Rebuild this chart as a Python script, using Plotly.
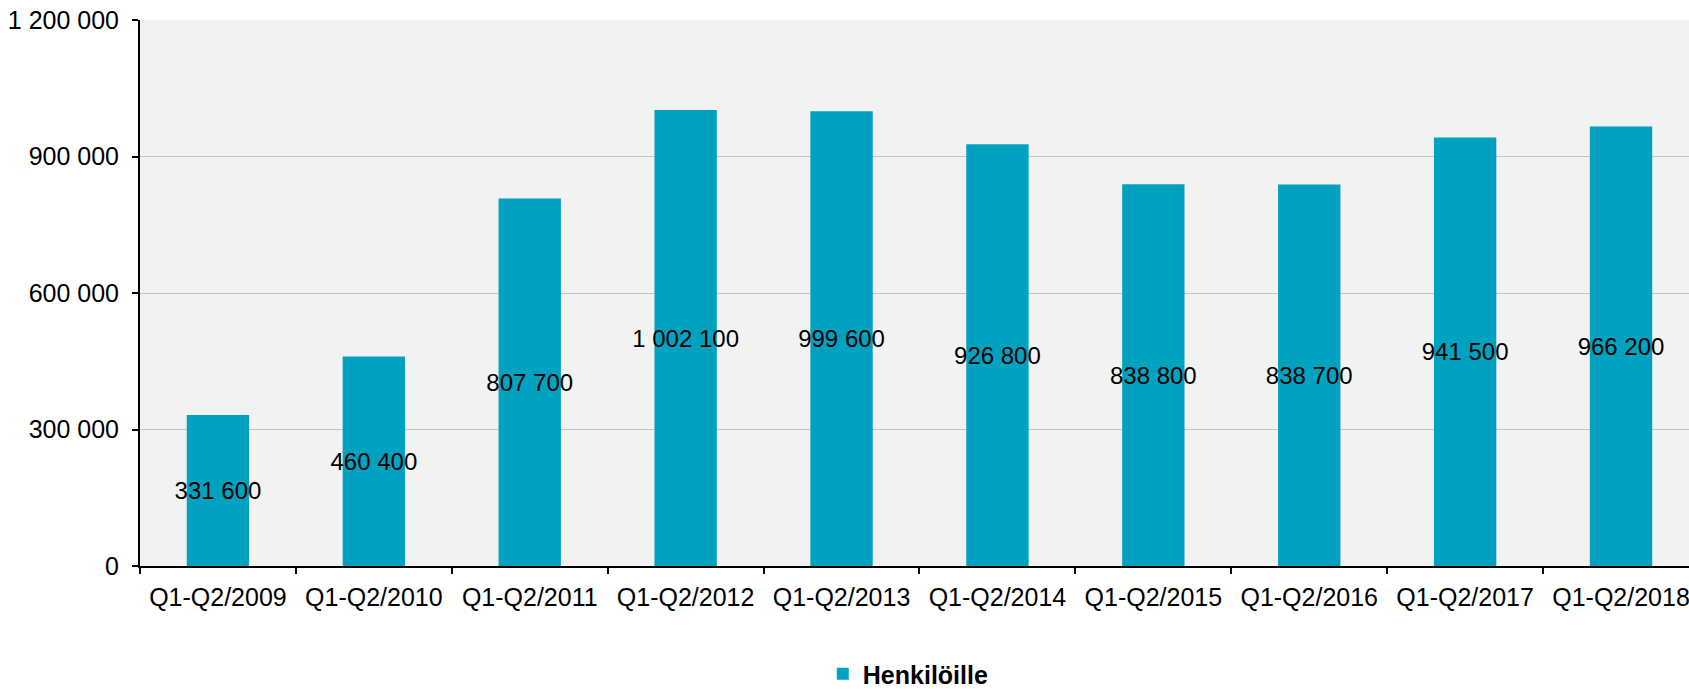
import plotly.graph_objects as go

categories = ["Q1-Q2/2009", "Q1-Q2/2010", "Q1-Q2/2011", "Q1-Q2/2012", "Q1-Q2/2013",
              "Q1-Q2/2014", "Q1-Q2/2015", "Q1-Q2/2016", "Q1-Q2/2017", "Q1-Q2/2018"]
values = [331600, 460400, 807700, 1002100, 999600, 926800, 838800, 838700, 941500, 966200]
series_name = "Henkilöille"
y_ticks = [0, 300000, 600000, 900000, 1200000]

FONT = "Liberation Sans, Arial, sans-serif"

fig = go.Figure()
fig.add_trace(go.Bar(
    x=categories,
    y=values,
    name=series_name,
    marker=dict(color="#00a2c0", line=dict(width=0)),
    texttemplate="%{y:,d}",
    textposition="inside",
    insidetextanchor="middle",
    constraintext="none",
    insidetextfont=dict(color="black", size=24, family=FONT),
    textangle=0,
    showlegend=True,
))

fig.update_layout(
    width=1689, height=689,
    margin=dict(l=140, r=0, t=20, b=123, autoexpand=False),
    paper_bgcolor="white",
    plot_bgcolor="#f2f2f2",
    separators=", ",
    bargap=0.6,
    font=dict(family=FONT, size=25, color="black"),
    legend=dict(orientation="h", x=0.496, xanchor="center", y=-0.198, yanchor="middle",
                font=dict(size=25, family=FONT, weight="bold"),
                itemwidth=30, bgcolor="rgba(0,0,0,0)"),
    xaxis=dict(
        type="category",
        range=[-0.5, 9.436],
        showline=True, linecolor="black", linewidth=2,
        ticks="outside", ticklen=6, tickwidth=2, tickcolor="black",
        tickson="boundaries",
        showgrid=False, zeroline=False,
        ticklabelstandoff=8,
        tickfont=dict(size=25),
        automargin=False,
    ),
    yaxis=dict(
        range=[0, 1200000],
        tickvals=y_ticks,
        tickformat=",d",
        showline=True, linecolor="black", linewidth=2,
        ticks="outside", ticklen=6, tickwidth=2, tickcolor="black",
        showgrid=True, gridcolor="#c4c4c4", gridwidth=1,
        zeroline=False,
        ticklabelstandoff=8,
        tickfont=dict(size=25),
        automargin=False,
    ),
)

fig.write_html(
    "out.html",
    config={"displayModeBar": False},
    post_script="document.body.style.margin='0';document.body.style.overflow='hidden';",
)
